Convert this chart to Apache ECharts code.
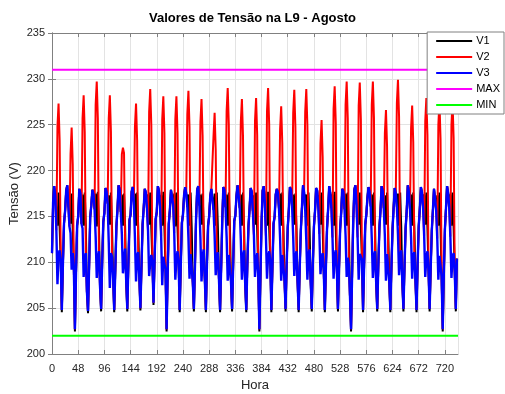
<!DOCTYPE html>
<html>
<head>
<meta charset="utf-8">
<title>Valores de Tensão na L9 - Agosto</title>
<script src="https://cdn.jsdelivr.net/npm/echarts@6/dist/echarts.min.js"></script>
<style>
  html, body { margin: 0; padding: 0; background: #fff; }
  #chart { width: 505px; height: 394px; }
</style>
</head>
<body>
<div id="chart"></div>
<script>
// one reading every 2 hours, one row per day of August
const stepHours = 2
const hourEnd = 744
const xTicks = [0, 48, 96, 144, 192, 240, 288, 336, 384, 432, 480, 528, 576, 624, 672, 720]
const yTicks = [200, 205, 210, 215, 220, 225, 230, 235]
const limMax = 231
const limMin = 202

const v1 = [
  211.0, 216.5, 218.3, 217.2, 217.4, 214.0, 217.6, 213.8, 210.2, 204.55, 209.8, 214.2,
  215.6, 217.8, 218.4, 216.0, 217.3, 214.2, 217.5, 213.6, 209.5, 202.45, 208.8, 214.0,
  215.0, 218.0, 217.5, 214.2, 217.4, 214.0, 217.6, 213.8, 206.8, 204.45, 209.5, 214.9,
  216.2, 217.9, 217.4, 215.8, 217.5, 213.9, 217.7, 214.0, 207.4, 204.65, 210.1, 214.4,
  215.4, 218.1, 217.7, 216.4, 217.3, 214.1, 217.6, 213.7, 208.3, 204.55, 209.2, 213.9,
  215.8, 218.4, 217.9, 215.5, 217.4, 214.0, 217.5, 213.9, 207.9, 204.65, 209.9, 214.6,
  215.2, 217.7, 218.2, 216.6, 217.5, 214.0, 217.6, 213.8, 208.4, 204.75, 209.6, 214.1,
  215.9, 218.0, 217.6, 215.9, 217.4, 214.1, 217.6, 213.7, 210.0, 205.35, 210.3, 214.7,
  215.5, 218.3, 217.8, 216.1, 217.3, 214.0, 217.7, 213.8, 209.3, 202.45, 208.9, 214.2,
  215.7, 217.9, 218.1, 216.3, 217.5, 213.9, 217.6, 213.8, 210.1, 204.55, 209.7, 214.3,
  215.2, 217.3, 218.2, 217.5, 216.0, 217.4, 214.0, 217.6, 213.8, 207.8, 204.65, 209.6,
  214.8, 217.9, 218.3, 216.2, 217.4, 214.1, 217.5, 213.8, 208.2, 204.55, 209.9, 214.0,
  215.0, 217.2, 218.0, 217.8, 215.7, 217.5, 214.0, 217.6, 213.7, 208.1, 204.55, 209.4,
  214.6, 218.2, 217.9, 216.0, 217.4, 214.0, 217.6, 213.9, 207.9, 204.65, 209.7, 214.5,
  215.1, 217.2, 218.4, 217.3, 215.9, 217.4, 214.0, 217.6, 213.8, 207.7, 204.55, 209.8,
  213.9, 215.8, 218.1, 217.7, 215.6, 217.3, 214.1, 217.6, 213.6, 208.6, 202.45, 208.6,
  214.4, 217.8, 218.3, 216.5, 217.4, 214.0, 217.7, 213.8, 210.2, 204.55, 209.6, 214.2,
  215.0, 217.4, 218.0, 217.6, 215.8, 217.5, 214.0, 217.6, 213.8, 208.2, 204.65, 209.7,
  213.8, 215.7, 218.2, 217.9, 216.1, 217.4, 214.1, 217.5, 213.7, 207.9, 204.55, 209.5,
  213.5, 215.9, 218.4, 217.6, 215.7, 217.4, 214.0, 217.6, 213.8, 208.0, 204.65, 209.8,
  213.9, 215.6, 218.1, 217.8, 216.0, 217.3, 214.1, 217.6, 213.8, 209.0, 204.55, 209.6,
  213.7, 215.8, 218.3, 217.5, 215.9, 217.4, 214.0, 217.7, 213.7, 209.2, 204.65, 209.4,
  213.6, 215.5, 218.0, 217.7, 215.8, 217.5, 214.0, 217.6, 213.8, 206.4, 202.45, 208.8,
  214.5, 217.9, 218.4, 216.3, 217.4, 214.1, 217.6, 213.8, 210.3, 204.55, 209.8, 214.1,
  215.2, 217.0, 218.2, 217.6, 216.1, 217.4, 214.0, 217.6, 213.8, 207.9, 204.65, 209.7,
  213.8, 215.7, 218.3, 217.8, 215.9, 217.3, 214.1, 217.6, 213.7, 208.0, 204.55, 209.5,
  213.6, 215.9, 218.1, 217.5, 216.0, 217.5, 214.0, 217.6, 213.8, 207.8, 204.65, 209.6,
  213.7, 215.6, 218.4, 217.7, 215.8, 217.4, 214.0, 217.6, 213.8, 208.1, 204.55, 209.8,
  213.9, 215.8, 218.2, 217.6, 216.0, 217.4, 214.1, 217.6, 213.8, 209.1, 204.65, 209.5,
  213.5, 215.7, 218.0, 217.8, 215.7, 217.3, 214.0, 217.6, 213.7, 208.4, 202.45, 208.7,
  213.6, 215.9, 218.3, 217.5, 215.9, 217.4, 214.0, 217.6, 213.8, 209.0, 204.65, 210.4
]

const v2 = [
  211.0, 216.5, 218.3, 217.2, 213.5, 224.8, 227.3, 223.3, 210.2, 204.8, 209.8, 214.2,
  215.6, 217.8, 218.4, 216.0, 213.9, 221.8, 224.7, 220.7, 209.5, 202.7, 208.8, 214.0,
  215.0, 218.0, 217.5, 214.2, 225.7, 228.2, 224.2, 211.0, 206.8, 204.7, 209.5, 214.9,
  216.2, 217.9, 217.4, 215.8, 227.2, 229.7, 225.7, 211.2, 207.4, 204.9, 210.1, 214.4,
  215.4, 218.1, 217.7, 216.4, 225.7, 228.2, 224.2, 210.6, 208.3, 204.8, 209.2, 213.9,
  215.8, 218.4, 217.9, 215.5, 221.8, 222.5, 221.9, 211.5, 207.9, 204.9, 209.9, 214.6,
  215.2, 217.7, 218.2, 216.6, 224.8, 227.3, 223.3, 211.1, 208.4, 205.0, 209.6, 214.1,
  215.9, 218.0, 217.6, 215.9, 213.4, 226.4, 228.9, 224.9, 210.0, 205.6, 210.3, 214.7,
  215.5, 218.3, 217.8, 216.1, 212.9, 225.6, 228.1, 224.1, 209.3, 202.7, 208.9, 214.2,
  215.7, 217.9, 218.1, 216.3, 213.2, 225.6, 228.1, 224.1, 210.1, 204.8, 209.7, 214.3,
  215.2, 217.3, 218.2, 217.5, 226.2, 228.7, 224.7, 210.9, 211.0, 207.8, 204.9, 209.6,
  214.8, 217.9, 218.3, 216.2, 225.3, 227.8, 223.8, 211.4, 208.2, 204.8, 209.9, 214.0,
  215.0, 217.2, 218.0, 217.8, 223.8, 226.3, 222.3, 210.5, 211.1, 208.1, 204.8, 209.4,
  214.6, 218.2, 217.9, 216.0, 226.5, 229.0, 225.0, 211.0, 207.9, 204.9, 209.7, 214.5,
  215.1, 217.2, 218.4, 217.3, 215.9, 225.3, 227.8, 223.8, 211.3, 207.7, 204.8, 209.8,
  213.9, 215.8, 218.1, 217.7, 215.6, 213.0, 225.4, 227.9, 223.9, 208.6, 202.7, 208.6,
  214.4, 217.8, 218.3, 216.5, 212.9, 226.5, 229.0, 225.0, 210.2, 204.8, 209.6, 214.2,
  215.0, 217.4, 218.0, 217.6, 215.8, 224.5, 227.0, 223.0, 211.0, 208.2, 204.9, 209.7,
  213.8, 215.7, 218.2, 217.9, 216.1, 226.3, 228.8, 224.8, 211.2, 207.9, 204.8, 209.5,
  213.5, 215.9, 218.4, 217.6, 226.4, 228.9, 224.9, 210.9, 211.4, 208.0, 204.9, 209.8,
  213.9, 215.6, 218.1, 217.8, 216.0, 213.1, 223.0, 225.5, 221.5, 209.0, 204.8, 209.6,
  213.7, 215.8, 218.3, 217.5, 215.9, 212.7, 226.7, 229.2, 225.2, 209.2, 204.9, 209.4,
  213.6, 215.5, 218.0, 217.7, 215.8, 227.2, 229.7, 225.7, 209.7, 206.4, 202.7, 208.8,
  214.5, 217.9, 218.4, 216.3, 212.7, 227.1, 229.6, 225.6, 210.3, 204.8, 209.8, 214.1,
  215.2, 217.0, 218.2, 217.6, 216.1, 227.2, 229.7, 225.7, 211.2, 207.9, 204.9, 209.7,
  213.8, 215.7, 218.3, 217.8, 215.9, 224.1, 226.6, 222.6, 211.0, 208.0, 204.8, 209.5,
  213.6, 215.9, 218.1, 217.5, 227.4, 229.9, 225.9, 210.6, 211.3, 207.8, 204.9, 209.6,
  213.7, 215.6, 218.4, 217.7, 215.8, 224.6, 227.1, 223.1, 211.1, 208.1, 204.8, 209.8,
  213.9, 215.8, 218.2, 217.6, 216.0, 212.9, 225.4, 227.9, 223.9, 209.1, 204.9, 209.5,
  213.5, 215.7, 218.0, 217.8, 215.7, 212.6, 225.0, 227.5, 223.5, 208.4, 202.7, 208.7,
  213.6, 215.9, 218.3, 217.5, 215.9, 212.8, 225.0, 227.5, 223.5, 209.0, 204.9, 210.4
]

const v3 = [
  211.0, 216.5, 218.3, 217.2, 213.5, 207.6, 210.9, 211.3, 210.2, 204.8, 209.8, 214.2,
  215.6, 217.8, 218.4, 216.0, 213.9, 213.2, 209.2, 211.0, 209.5, 202.7, 208.8, 214.0,
  215.0, 218.0, 217.5, 214.2, 213.7, 208.4, 210.4, 211.0, 206.8, 204.7, 209.5, 214.9,
  216.2, 217.9, 217.4, 215.8, 212.8, 208.3, 210.5, 211.2, 207.4, 204.9, 210.1, 214.4,
  215.4, 218.1, 217.7, 216.4, 212.2, 207.2, 211.0, 210.6, 208.3, 204.8, 209.2, 213.9,
  215.8, 218.4, 217.9, 215.5, 213.1, 208.8, 210.2, 211.5, 207.9, 204.9, 209.9, 214.6,
  215.2, 217.7, 218.2, 216.6, 212.6, 207.9, 210.7, 211.1, 208.4, 205.0, 209.6, 214.1,
  215.9, 218.0, 217.6, 215.9, 213.4, 208.5, 209.9, 210.8, 210.0, 205.6, 210.3, 214.7,
  215.5, 218.3, 217.8, 216.1, 212.9, 207.5, 210.6, 209.8, 209.3, 202.7, 208.9, 214.2,
  215.7, 217.9, 218.1, 216.3, 213.2, 208.1, 210.4, 211.2, 210.1, 204.8, 209.7, 214.3,
  215.2, 217.3, 218.2, 217.5, 216.0, 212.7, 208.2, 210.9, 211.0, 207.8, 204.9, 209.6,
  214.8, 217.9, 218.3, 216.2, 212.6, 207.9, 210.7, 211.4, 208.2, 204.8, 209.9, 214.0,
  215.0, 217.2, 218.0, 217.8, 215.7, 212.9, 208.6, 210.5, 211.1, 208.1, 204.8, 209.4,
  214.6, 218.2, 217.9, 216.0, 212.8, 208.0, 210.8, 211.0, 207.9, 204.9, 209.7, 214.5,
  215.1, 217.2, 218.4, 217.3, 215.9, 212.5, 208.1, 210.7, 211.3, 207.7, 204.8, 209.8,
  213.9, 215.8, 218.1, 217.7, 215.6, 213.0, 208.4, 210.2, 211.0, 208.6, 202.7, 208.6,
  214.4, 217.8, 218.3, 216.5, 212.9, 208.2, 210.6, 211.2, 210.2, 204.8, 209.6, 214.2,
  215.0, 217.4, 218.0, 217.6, 215.8, 212.6, 208.0, 210.8, 211.0, 208.2, 204.9, 209.7,
  213.8, 215.7, 218.2, 217.9, 216.1, 212.8, 208.5, 210.6, 211.2, 207.9, 204.8, 209.5,
  213.5, 215.9, 218.4, 217.6, 215.7, 212.4, 208.1, 210.9, 211.4, 208.0, 204.9, 209.8,
  213.9, 215.6, 218.1, 217.8, 216.0, 213.1, 208.7, 210.4, 211.0, 209.0, 204.8, 209.6,
  213.7, 215.8, 218.3, 217.5, 215.9, 212.7, 208.2, 210.8, 211.3, 209.2, 204.9, 209.4,
  213.6, 215.5, 218.0, 217.7, 215.8, 212.9, 208.4, 210.5, 209.7, 206.4, 202.7, 208.8,
  214.5, 217.9, 218.4, 216.3, 212.7, 208.1, 210.9, 211.1, 210.3, 204.8, 209.8, 214.1,
  215.2, 217.0, 218.2, 217.6, 216.1, 212.6, 208.3, 210.7, 211.2, 207.9, 204.9, 209.7,
  213.8, 215.7, 218.3, 217.8, 215.9, 212.8, 208.0, 210.9, 211.0, 208.0, 204.8, 209.5,
  213.6, 215.9, 218.1, 217.5, 216.0, 213.0, 208.6, 210.6, 211.3, 207.8, 204.9, 209.6,
  213.7, 215.6, 218.4, 217.7, 215.8, 212.7, 208.2, 210.8, 211.1, 208.1, 204.8, 209.8,
  213.9, 215.8, 218.2, 217.6, 216.0, 212.9, 208.4, 210.5, 211.2, 209.1, 204.9, 209.5,
  213.5, 215.7, 218.0, 217.8, 215.7, 212.6, 208.1, 210.7, 209.6, 208.4, 202.7, 208.7,
  213.6, 215.9, 218.3, 217.5, 215.9, 212.8, 208.3, 210.6, 211.0, 209.0, 204.9, 210.4
]

const fontFamily = '"Liberation Sans", Arial, Helvetica, sans-serif'
const axisGray = '#808080'
const textGray = '#262626'

function toPairs(values) {
  return values.map((v, i) => [i * stepHours, v])
}

// later series sit on top, like the plot order V1, V2, V3, MAX, MIN
function lineSeries(name, color, data, z, width) {
  return {
    name: name,
    type: 'line',
    data: data,
    z: z,
    symbol: 'none',
    lineStyle: { color: color, width: width },
    itemStyle: { color: color },
    silent: true,
    animation: false
  }
}

const chart = echarts.init(document.getElementById('chart'), null, { renderer: 'canvas' })

const baseX = {
  type: 'value',
  min: xTicks[0],
  max: hourEnd,
  interval: xTicks[1] - xTicks[0],
  axisLine: { show: true, lineStyle: { color: axisGray, width: 1 } },
  axisTick: { show: true, inside: true, length: 4, lineStyle: { color: axisGray } }
}
const baseY = {
  type: 'value',
  min: yTicks[0],
  max: yTicks[yTicks.length - 1],
  interval: yTicks[1] - yTicks[0],
  axisLine: { show: true, lineStyle: { color: axisGray, width: 1 } },
  axisTick: { show: true, inside: true, length: 4, lineStyle: { color: axisGray } }
}

chart.setOption({
  backgroundColor: '#fff',
  animation: false,
  title: {
    text: 'Valores de Tensão na L9 - Agosto',
    left: 'center',
    top: 12,
    padding: [0, 0, 0, 5],
    textStyle: { fontFamily: fontFamily, fontSize: 13, fontWeight: 'bold', color: '#000' }
  },
  grid: { left: 52, right: 47, top: 33, bottom: 40, containLabel: false, outerBoundsMode: 'none' },
  legend: {
    orient: 'vertical',
    right: 1,
    top: 32,
    z: 20,
    padding: [1, 4, 1, 9],
    itemGap: 0,
    itemWidth: 36,
    itemHeight: 2,
    icon: 'rect',
    backgroundColor: '#fff',
    borderColor: axisGray,
    borderWidth: 1,
    borderRadius: 0,
    textStyle: { fontFamily: fontFamily, fontSize: 11, color: '#000', lineHeight: 16, padding: [0, 0, 0, -1] },
    data: ['V1', 'V2', 'V3', 'MAX', 'MIN']
  },
  xAxis: [
    Object.assign({}, baseX, {
      position: 'bottom',
      name: 'Hora',
      nameLocation: 'middle',
      nameGap: 25,
      nameMoveOverlap: false,
      nameTextStyle: { fontFamily: fontFamily, fontSize: 13, color: textGray },
      axisLabel: { show: true, showMaxLabel: false, margin: 9, fontFamily: fontFamily, fontSize: 11, color: textGray },
      splitLine: { show: true, lineStyle: { color: '#e3e3e3', width: 1 } }
    }),
    Object.assign({}, baseX, {
      position: 'top',
      axisLabel: { show: false },
      splitLine: { show: false }
    })
  ],
  yAxis: [
    Object.assign({}, baseY, {
      position: 'left',
      name: 'Tensão (V)',
      nameLocation: 'middle',
      nameGap: 31,
      nameMoveOverlap: false,
      nameTextStyle: { fontFamily: fontFamily, fontSize: 13, color: textGray },
      axisLabel: { show: true, margin: 7, fontFamily: fontFamily, fontSize: 11, color: textGray },
      splitLine: { show: true, lineStyle: { color: '#e3e3e3', width: 1 } }
    }),
    Object.assign({}, baseY, {
      position: 'right',
      axisLabel: { show: false },
      splitLine: { show: false }
    })
  ],
  series: [
    lineSeries('V1', '#000000', toPairs(v1), 3, 2),
    lineSeries('V2', '#ff0000', toPairs(v2), 4, 2),
    lineSeries('V3', '#0000ff', toPairs(v3), 5, 2.4),
    lineSeries('MAX', '#ff00ff', [[0, limMax], [hourEnd, limMax]], 6, 2),
    lineSeries('MIN', '#00ff00', [[0, limMin], [hourEnd, limMin]], 6, 2)
  ]
})
</script>
</body>
</html>
